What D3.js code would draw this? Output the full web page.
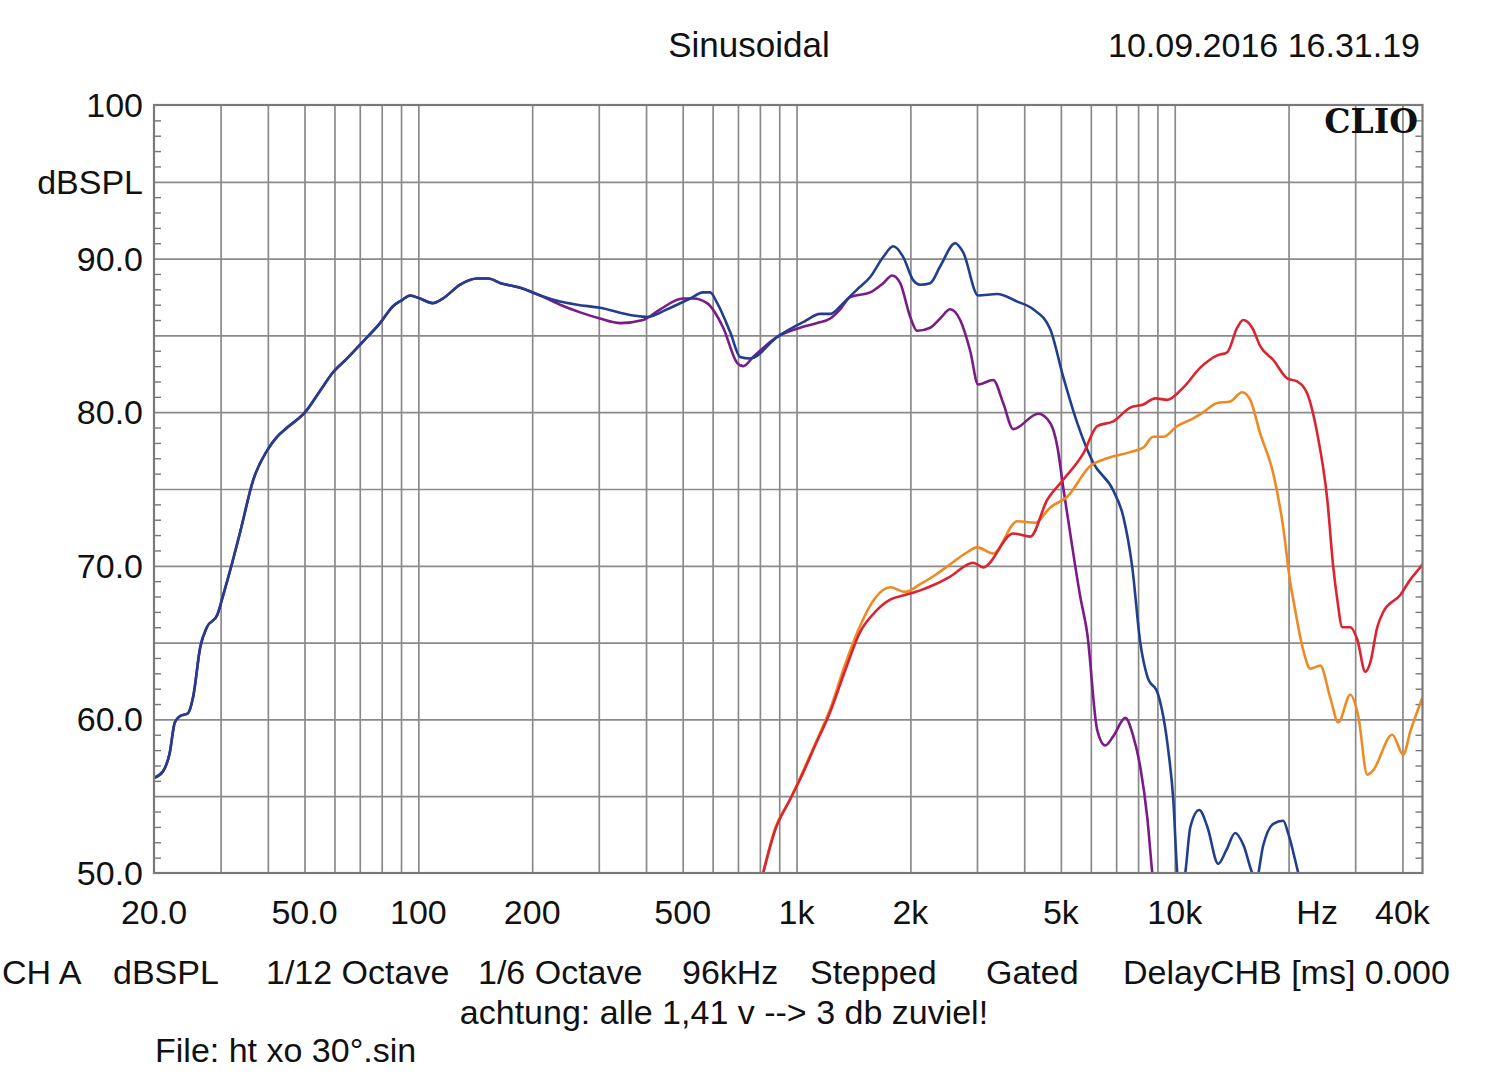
<!DOCTYPE html>
<html>
<head>
<meta charset="utf-8">
<script src="https://cdn.jsdelivr.net/npm/d3@7"></script>
<style>
  body { margin: 0; background: #fff; }
  svg { display: block; }
  text { font-family: "Liberation Sans", Arial, sans-serif; fill: #111; }
</style>
</head>
<body>
<svg id="chart"></svg>
<script>
var width = 1500;
var height = 1086;
var plotLeft = 154, plotRight = 1422.5, plotTop = 105, plotBottom = 873;

// [Hz, dBSPL]
var blueData = [[20,56.2],[21.1,56.6],[22.0,57.8],[22.7,59.8],[23.4,60.2],[24.6,60.4],[25.4,61.5],[26.5,64.7],
  [27.6,66.0],[29.4,66.8],[30.4,68.0],[32.2,70.2],[33.8,72.2],[36.6,75.6],[39.8,77.5],[42.3,78.4],[45.0,79.0],
  [50.2,80.0],[55.0,81.4],[59.5,82.6],[64.8,83.5],[71.4,84.6],[79.2,85.8],[85.7,86.9],[90.6,87.3],[95.1,87.6],
  [101,87.4],[109,87.1],[116,87.4],[129,88.3],[143,88.7],[153,88.7],[165,88.4],[186,88.1],[210,87.6],[237,87.2],
  [263,87.0],[302,86.8],[370,86.3],[403,86.2],[455,86.7],[523,87.4],[566,87.8],[591,87.8],[617,87.1],[668,85.2],
  [709,83.6],[754,83.5],[889,84.9],[1048,85.9],[1154,86.4],[1228,86.4],[1329,87.1],[1447,88.0],[1566,88.8],
  [1695,90.1],[1801,90.8],[1915,90.1],[2034,88.6],[2123,88.3],[2257,88.4],[2398,89.5],[2627,91.0],[2759,90.4],
  [3021,87.6],[3393,87.7],[3834,87.2],[4226,86.7],[4686,85.4],[5072,82.3],[5523,79.3],[6089,76.7],[6879,74.9],
  [7311,73.2],[7722,69.9],[8108,65.0],[8461,62.8],[9046,61.6],[9613,58.0],[9911,54.8],[10155,50.0],[10400,48.5],
  [10663,50.0],[11000,53.0],[11614,54.1],[12200,53.0],[13031,50.6],[13700,51.5],[14450,52.6],[15200,51.8],
  [16028,50.0],[16400,49.5],[17137,51.8],[18221,53.2],[19359,53.4],[20000,52.5],[21216,50.0],[22000,48.5]];

var purpleData = [[20,56.2],[21.1,56.6],[22.0,57.8],[22.7,59.8],[23.4,60.2],[24.6,60.4],[25.4,61.5],[26.5,64.7],
  [27.6,66.0],[29.4,66.8],[30.4,68.0],[32.2,70.2],[33.8,72.2],[36.6,75.6],[39.8,77.5],[42.3,78.4],[45.0,79.0],
  [50.2,80.0],[55.0,81.4],[59.5,82.6],[64.8,83.5],[71.4,84.6],[79.2,85.8],[85.7,86.9],[90.6,87.3],[95.1,87.6],
  [101,87.4],[109,87.1],[116,87.4],[129,88.3],[143,88.7],[153,88.7],[165,88.4],[186,88.1],[210,87.6],[237,87.0],
  [268,86.5],[302,86.1],[342,85.8],[393,86.0],[436,86.7],[501,87.4],[533,87.4],[580,87.1],[640,85.5],[697,83.2],
  [723,83.0],[768,83.6],[889,84.9],[1022,85.5],[1134,85.8],[1228,86.1],[1304,86.7],[1387,87.5],[1566,87.8],
  [1695,88.4],[1790,88.9],[1880,88.4],[1998,86.2],[2084,85.3],[2257,85.5],[2398,86.1],[2549,86.7],[2708,86.0],
  [2878,84.0],[3021,81.8],[3311,82.1],[3519,80.6],[3741,78.9],[4357,79.9],[4686,79.3],[4890,77.8],[5072,75.1],
  [5293,72.1],[5625,68.0],[5870,65.6],[6238,59.3],[6550,58.3],[6879,58.9],[7401,60.1],[7770,58.9],[8108,56.9],
  [8461,53.6],[8722,50.0],[9000,47.0]];

var redData = [[780,48.0],[816,50.0],[878,52.8],[962,54.8],[1022,56.1],[1120,58.3],[1228,60.5],[1345,63.2],
  [1473,65.7],[1614,67.0],[1768,67.8],[1937,68.1],[2123,68.4],[2327,68.8],[2549,69.3],[2932,70.2],[3116,69.9],
  [3741,72.1],[4150,71.9],[4602,74.3],[5072,75.6],[5728,77.3],[6238,79.1],[6879,79.4],[7629,80.3],[8257,80.5],
  [8882,80.9],[9555,80.8],[10532,81.6],[11685,82.9],[12950,83.7],[13764,83.9],[14627,85.5],[15169,86.0],
  [16028,85.5],[16828,84.3],[18221,83.4],[19843,82.2],[21087,82.0],[22413,81.2],[23820,78.6],[25318,74.3],
  [26258,69.9],[26906,67.8],[27734,66.0],[29120,66.0],[30389,65.2],[31903,63.1],[32886,63.7],[34316,66.0],
  [35594,67.0],[39476,68.1],[41957,69.1],[44587,69.9],[45200,70.1]];

var orangeData = [[780,48.0],[816,50.0],[878,52.9],[962,54.8],[1022,56.2],[1120,58.4],[1228,60.7],[1345,63.6],
  [1473,66.1],[1614,67.9],[1768,68.6],[1937,68.3],[2123,68.8],[2327,69.4],[2549,70.1],[2792,70.8],[3004,71.2],
  [3311,70.8],[3834,72.9],[4276,72.8],[4686,73.8],[5197,74.5],[5978,76.5],[6630,77.0],[7629,77.4],[8257,77.7],
  [8774,78.4],[9325,78.4],[10155,79.1],[11197,79.6],[11898,80.0],[12950,80.6],[14017,80.7],[15076,81.3],
  [15834,80.8],[16828,78.6],[18221,76.0],[19359,72.5],[20209,68.9],[20580,67.8],[21873,64.5],[22826,63.3],
  [24258,63.5],[25783,61.4],[27071,59.8],[29120,61.6],[30575,60.2],[32294,56.4],[33490,56.7],[37600,59.0],
  [40205,57.7],[41957,59.2],[45134,61.4]];

// draw order: purple under blue, orange under red
var series = [
  {data: purpleData, color: "#7b1c86"},
  {data: blueData, color: "#213f8e"},
  {data: orangeData, color: "#ee8a24"},
  {data: redData, color: "#dc2430"}
];

var xLabels = [[20,"20.0"],[50,"50.0"],[100,"100"],[200,"200"],[500,"500"],[1000,"1k"],[2000,"2k"],
  [5000,"5k"],[10000,"10k"],[23800,"Hz"],[40000,"40k"]];
var yLabels = [[100,"100"],[95,"dBSPL"],[90,"90.0"],[80,"80.0"],[70,"70.0"],[60,"60.0"],[50,"50.0"]];
var footer = [["CH A",2],["dBSPL",113],["1/12 Octave",266],["1/6 Octave",478],["96kHz",682],
  ["Stepped",810],["Gated",986],["DelayCHB [ms] 0.000",1123]];

var xScale = d3.scaleLog().domain([20, 45200]).range([plotLeft, plotRight]);
var yScale = d3.scaleLinear().domain([50, 100]).range([plotBottom, plotTop]);

// grid frequencies: 1..9 per decade
var gridFreqs = [];
[10, 100, 1000, 10000].forEach(function(dec) {
  for (var k = 1; k < 10; k++) {
    var f = dec * k;
    if (f > 20 && f <= 40000) gridFreqs.push(f);
  }
});

var svg = d3.select("#chart").attr("width", width).attr("height", height);
var gridColor = "#8a8a8a";

// vertical grid
svg.append("g")
  .attr("transform", "translate(0," + plotBottom + ")")
  .call(d3.axisBottom(xScale).tickValues(gridFreqs).tickSize(-(plotBottom - plotTop)).tickFormat(""))
  .call(function(g) {
    g.select(".domain").remove();
    g.selectAll("line").attr("stroke", gridColor).attr("stroke-width", 1.7);
  });

// horizontal grid
svg.append("g")
  .attr("transform", "translate(" + plotLeft + ",0)")
  .call(d3.axisLeft(yScale).tickValues(d3.range(55, 100, 5)).tickSize(-(plotRight - plotLeft)).tickFormat(""))
  .call(function(g) {
    g.select(".domain").remove();
    g.selectAll("line").attr("stroke", gridColor).attr("stroke-width", 1.7);
  });

// 1 dB minor ticks inside both borders
var minor = d3.range(51, 100).filter(function(d) { return d % 5 !== 0; });
svg.append("g")
  .attr("transform", "translate(" + plotLeft + ",0)")
  .call(d3.axisLeft(yScale).tickValues(minor).tickSize(-7).tickFormat(""))
  .call(function(g) {
    g.select(".domain").remove();
    g.selectAll("line").attr("stroke", "#777").attr("stroke-width", 1.4);
  });
svg.append("g")
  .attr("transform", "translate(" + plotRight + ",0)")
  .call(d3.axisRight(yScale).tickValues(minor).tickSize(-7).tickFormat(""))
  .call(function(g) {
    g.select(".domain").remove();
    g.selectAll("line").attr("stroke", "#777").attr("stroke-width", 1.4);
  });

// curves
svg.append("clipPath").attr("id", "plotclip")
  .append("rect").attr("x", plotLeft).attr("y", plotTop)
  .attr("width", plotRight - plotLeft).attr("height", plotBottom - plotTop);

var line = d3.line()
  .x(function(d) { return xScale(d[0]); })
  .y(function(d) { return yScale(d[1]); })
  .curve(d3.curveMonotoneX);

svg.append("g").attr("clip-path", "url(#plotclip)")
  .selectAll("path")
  .data(series)
  .enter()
  .append("path")
    .attr("d", function(s) { return line(s.data); })
    .attr("fill", "none")
    .attr("stroke", function(s) { return s.color; })
    .attr("stroke-width", 2.6)
    .attr("stroke-linejoin", "round");

// frame
svg.append("rect")
  .attr("x", plotLeft).attr("y", plotTop)
  .attr("width", plotRight - plotLeft).attr("height", plotBottom - plotTop)
  .attr("fill", "none").attr("stroke", "#7a7a7a").attr("stroke-width", 2.2);

// axis labels
svg.append("g").selectAll("text")
  .data(xLabels)
  .enter()
  .append("text")
    .attr("x", function(d) { return xScale(d[0]); })
    .attr("y", 924)
    .attr("text-anchor", "middle")
    .style("font-size", "34px")
    .text(function(d) { return d[1]; });

svg.append("g").selectAll("text")
  .data(yLabels)
  .enter()
  .append("text")
    .attr("x", 143)
    .attr("y", function(d) { return yScale(d[0]) + 12; })
    .attr("text-anchor", "end")
    .style("font-size", "34px")
    .text(function(d) { return d[1]; });

// header
svg.append("text")
  .attr("x", 749).attr("y", 57)
  .attr("text-anchor", "middle")
  .style("font-size", "35px")
  .text("Sinusoidal");

svg.append("text")
  .attr("x", 1420).attr("y", 57)
  .attr("text-anchor", "end")
  .style("font-size", "34px")
  .text("10.09.2016 16.31.19");

svg.append("text")
  .attr("x", 1418).attr("y", 133)
  .attr("text-anchor", "end")
  .style("font-family", "'DejaVu Serif', 'Liberation Serif', serif")
  .style("font-weight", "bold")
  .style("font-size", "33px")
  .text("CLIO");

// footer
svg.append("g").selectAll("text")
  .data(footer)
  .enter()
  .append("text")
    .attr("x", function(d) { return d[1]; })
    .attr("y", 984)
    .style("font-size", "34px")
    .text(function(d) { return d[0]; });

svg.append("text")
  .attr("x", 724).attr("y", 1024)
  .attr("text-anchor", "middle")
  .style("font-size", "34px")
  .text("achtung: alle 1,41 v --> 3 db zuviel!");

svg.append("text")
  .attr("x", 155).attr("y", 1062)
  .style("font-size", "34px")
  .text("File: ht xo 30°.sin");
</script>
</body>
</html>
